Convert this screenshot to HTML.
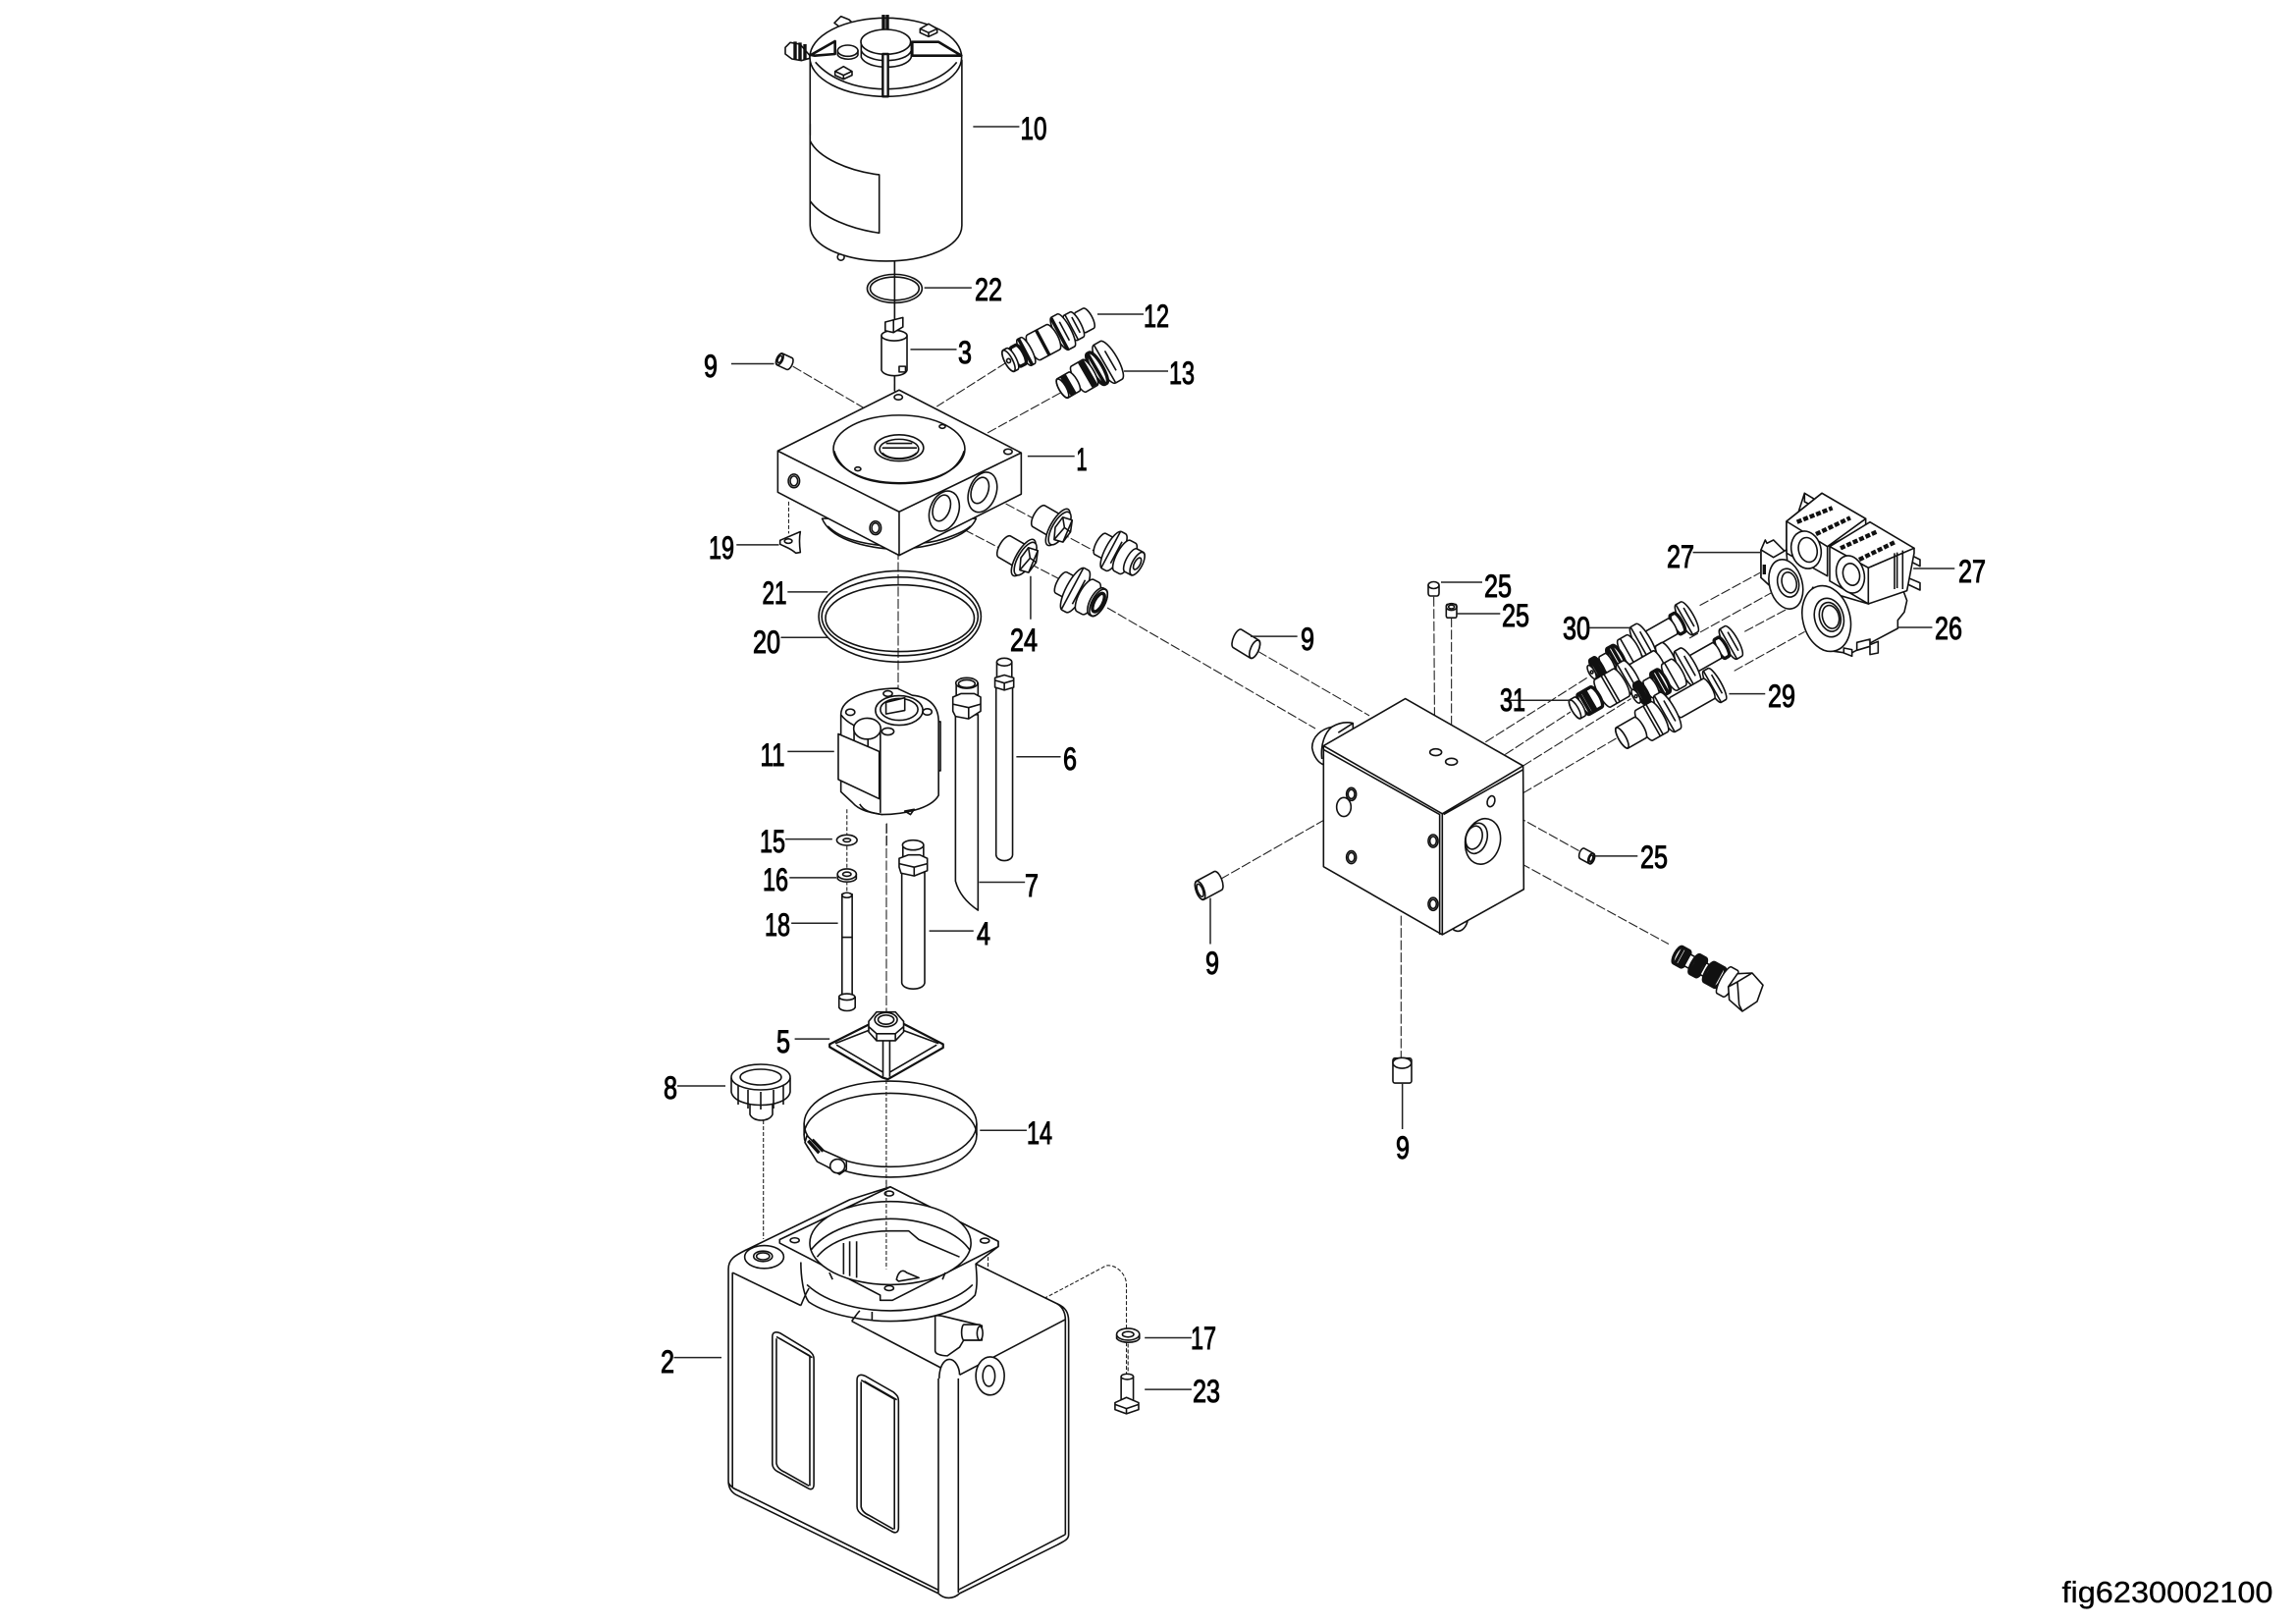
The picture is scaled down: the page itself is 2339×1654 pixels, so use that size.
<!DOCTYPE html>
<html><head><meta charset="utf-8"><style>
html,body{margin:0;padding:0;background:#fff}
svg{display:block}
svg *{vector-effect:non-scaling-stroke}
.p{fill:#fff;stroke:#111;stroke-width:1.6;stroke-linejoin:round}
.p .n,.n{fill:none}
.d{stroke-width:3.4}
.f{fill:#111}
.l{stroke:#222;stroke-width:1.5;fill:none}
.a{stroke:#222;stroke-width:1.1;stroke-dasharray:10 2.5;fill:none}
.s{stroke:#222;stroke-width:1.1;stroke-dasharray:4 2;fill:none}
text{font-family:"Liberation Sans",sans-serif;font-size:32px;fill:#000;stroke:#000;stroke-width:1;text-anchor:middle}
</style></head><body>
<svg width="2339" height="1654" viewBox="0 0 2339 1654" xmlns="http://www.w3.org/2000/svg">
<defs>
<g id="v30">
<rect x="320" y="-48" width="45" height="96" rx="14" ry="48"/><path class="n" d="M334,-47V47M350,-30V30"/>
<rect class="d" x="295" y="-30" width="30" height="60" rx="9" ry="30"/>
<rect x="205" y="-25" width="95" height="50" rx="8" ry="25"/>
<rect x="165" y="-56" width="50" height="112" rx="16" ry="56"/><path class="n" d="M180,-54V54M198,-32V32"/>
<rect x="115" y="-42" width="55" height="84" rx="13" ry="42"/><path class="n" d="M135,-41V41"/>
<rect class="d" x="75" y="-36" width="40" height="72" rx="11" ry="36"/><path class="n d" d="M87,-35V35M100,-35V35"/>
<rect x="45" y="-27" width="35" height="54" rx="8" ry="27"/>
<rect class="d" x="15" y="-32" width="30" height="64" rx="9" ry="32"/><path class="n d" d="M26,-31V31M35,-31V31"/>
<ellipse cx="9" cy="0" rx="9" ry="21"/><circle cx="9" cy="0" r="4" class="n"/>
</g>
<g id="v31">
<rect x="310" y="-40" width="42" height="80" rx="12" ry="40"/>
<rect x="210" y="-32" width="105" height="64" rx="10" ry="32"/>
<rect x="175" y="-50" width="50" height="100" rx="15" ry="50"/><path class="n" d="M190,-49V49M205,-30V30"/>
<rect x="95" y="-44" width="90" height="88" rx="13" ry="44"/><path class="n" d="M130,-43V43M140,-43V43"/>
<rect class="d" x="30" y="-32" width="65" height="64" rx="11" ry="32"/><path class="n d" d="M45,-31V31M56,-31V31M65,-31V31"/>
<rect x="0" y="-30" width="36" height="60" rx="10" ry="30"/><ellipse cx="10" cy="0" rx="10" ry="29"/>
</g>
<g id="v29">
<rect x="315" y="-50" width="42" height="100" rx="13" ry="50"/><path class="n" d="M328,-48V48M344,-30V30"/>
<rect x="190" y="-32" width="135" height="64" rx="10" ry="32"/>
<rect x="145" y="-58" width="50" height="116" rx="16" ry="58"/><path class="n" d="M160,-56V56M178,-33V33"/>
<rect x="75" y="-48" width="80" height="96" rx="14" ry="48"/><path class="n" d="M115,-47V47M125,-47V47"/>
<rect x="0" y="-33" width="85" height="66" rx="11" ry="33"/><ellipse cx="11" cy="0" rx="11" ry="32"/>
</g>
<g id="plug2">
<rect x="-75" y="-33" width="70" height="66" rx="14" ry="33"/>
<rect x="-22" y="-56" width="40" height="112" rx="20" ry="56"/>
<ellipse cx="4" cy="0" rx="20" ry="50"/>
<path d="M-4,-30L22,-36L34,-6L30,28L6,34L-8,4Z"/><path class="n" d="M-4,-30L14,-8L34,-6M14,-8L6,34M22,-36L30,28"/>
</g>
</defs>

<!-- long dashed lines in page coordinates -->
<path class="a" d="M911.4,266V535M915,535V703M903,839V1100V1293"/>
<path class="a" d="M1128,619L1340,742"/>
<path class="s" d="M777.7,1141V1262"/>

<!-- Z1: motor, pump head -->
<g transform="translate(650,0) scale(.3827)">
<path class="a" d="M412,975L600,1085M980,965L795,1082M1125,1045L925,1155M950,1325L1240,1480M840,1395L1120,1540"/>
<path class="s" d="M401,1335V1420"/>
<g class="p">
<circle cx="540" cy="684" r="9"/>
<path d="M458,160V600C458,660 560,695 660,695C760,695 862,660 862,600V160Z"/>
<path class="n" d="M458,375C480,420 560,455 642,465V620C570,610 490,580 458,535M458,330V360"/>
<ellipse cx="683" cy="768" rx="73" ry="38"/><ellipse cx="683" cy="768" rx="65" ry="31"/>
<path class="n" d="M683,696V1040"/>
<path d="M648,893V985C655,1005 710,1005 716,985V893Z"/><ellipse cx="682" cy="893" rx="34" ry="14"/>
<path d="M658,857L705,845V870L680,885L658,880Z"/><path class="n" d="M680,850V885M695,975H712V990H695Z"/>
<g transform="translate(390,962) rotate(25)"><rect x="-22" y="-17" width="44" height="34" rx="8" ry="17"/><ellipse cx="-14" cy="0" rx="8" ry="16"/><ellipse cx="-14" cy="0" rx="5" ry="10"/></g>
<!-- head block underside -->
<path d="M490,1380C510,1430 590,1458 690,1462C780,1458 880,1430 900,1380Z"/>
<path class="n" d="M505,1400C540,1435 600,1450 690,1455M760,1445C810,1440 870,1415 885,1400"/>
<path d="M372,1200L695,1038L1020,1205V1315L695,1478L372,1310Z"/>
<path class="n" d="M372,1200L695,1362L1020,1205M695,1362V1478"/>
<ellipse cx="695" cy="1195" rx="175" ry="90"/><path class="n" d="M522,1200C540,1260 610,1287 695,1287C780,1287 850,1260 868,1200"/>
<ellipse cx="695" cy="1192" rx="65" ry="35"/><ellipse cx="695" cy="1195" rx="52" ry="26"/><path class="n" d="M650,1205C670,1225 720,1225 742,1205M660,1180H730M650,1192H742"/>
<ellipse cx="693" cy="1057" rx="11" ry="7"/><ellipse cx="985" cy="1202" rx="11" ry="7"/><ellipse cx="810" cy="1135" rx="8" ry="5"/><ellipse cx="585" cy="1248" rx="8" ry="5"/>
<ellipse cx="415" cy="1280" rx="15" ry="18"/><ellipse cx="415" cy="1280" rx="10" ry="13"/><ellipse cx="632" cy="1405" rx="15" ry="18"/><ellipse cx="632" cy="1405" rx="10" ry="13"/>
<ellipse cx="917" cy="1310" rx="36" ry="55" transform="rotate(20 917 1310)"/><ellipse cx="910" cy="1305" rx="22" ry="36" transform="rotate(20 910 1305)"/>
<ellipse cx="815" cy="1360" rx="38" ry="55" transform="rotate(20 815 1360)"/><ellipse cx="808" cy="1352" rx="22" ry="36" transform="rotate(20 808 1352)"/>
<path d="M378,1438L432,1415C428,1435 430,1455 432,1470L420,1472C405,1458 390,1455 378,1448Z"/><ellipse cx="400" cy="1440" rx="10" ry="6"/>
</g>
<path class="l" d="M892,337H1015M762,766H888M725,930H848M248,968H362M1037,1214H1162M262,1450H375"/>
</g>

<!-- motor top (3x crop coordinates) -->
<g transform="translate(800,0) scale(.3333)" class="p">
<path d="M75,170L45,135L15,130L0,145V165L20,180L50,185L75,178Z"/><path class="n d" d="M30,127V182M45,130V185M60,135V183"/>
<path d="M150,70L170,50L195,60L205,70L170,85Z"/>
<ellipse cx="307" cy="175" rx="232" ry="120"/>
<path class="n" d="M92,190C140,245 220,272 305,272C395,272 480,245 524,190"/>
<path d="M78,168L152,126V165L90,170Z" style="stroke-width:2.6"/><path d="M388,128H468L538,170H388Z" style="stroke-width:2.6"/>
<path class="n d" d="M300,45V92M312,45V92"/>
<path d="M232,130V175C250,215 370,215 385,175V130Z"/><path class="n" d="M232,155C250,195 370,195 385,155"/><ellipse cx="307" cy="128" rx="76" ry="38"/>
<path d="M298,165H314V295H298Z" style="stroke-width:2.4"/>
<path d="M160,155V168C170,185 215,185 222,168V155Z"/><ellipse cx="191" cy="155" rx="31" ry="17"/>
<path d="M152,218V230L178,242L204,230V218L178,203Z"/><path class="n" d="M152,218L178,230L204,218M178,230V242"/>
<path d="M412,88V100L438,112L464,100V88L438,73Z"/><path class="n" d="M412,88L438,100L464,88M438,100V112"/>
</g>

<!-- 12 / 13 (3x crop) -->
<g transform="translate(1000,300) scale(.3333)" class="p">
<g transform="translate(72,208) rotate(-28) scale(1,1.08)">
<rect x="250" y="-32" width="50" height="64" rx="12" ry="32"/>
<rect x="215" y="-40" width="45" height="80" rx="12" ry="40"/><path class="n" d="M230,-39V39M245,-25V25"/>
<rect x="175" y="-52" width="50" height="104" rx="15" ry="52"/><path class="n d" d="M188,-50V50"/><path class="n" d="M205,-30V30"/>
<rect x="85" y="-40" width="95" height="80" rx="15" ry="40"/><path class="n d" d="M130,-39V39"/>
<rect x="55" y="-42" width="35" height="84" rx="12" ry="42"/><path class="n d" d="M70,-41V41"/>
<rect class="d" x="28" y="-30" width="35" height="60" rx="10" ry="30"/>
<rect x="0" y="-34" width="36" height="68" rx="12" ry="34"/><ellipse cx="12" cy="0" rx="12" ry="33"/><circle cx="12" cy="0" r="6"/>
</g>
<g transform="translate(238,292) rotate(-30) scale(1,1.08)">
<rect x="140" y="-62" width="62" height="124" rx="20" ry="62"/><path class="n" d="M160,-60V60M180,-32V32"/>
<rect class="d" x="115" y="-50" width="35" height="100" rx="14" ry="50"/><path class="n d" d="M130,-48V48"/>
<rect x="55" y="-42" width="65" height="84" rx="13" ry="42"/><path class="n d" d="M95,-40V40M105,-40V40"/>
<rect x="0" y="-31" width="62" height="62" rx="11" ry="31"/><ellipse cx="11" cy="0" rx="11" ry="30"/><path class="n d" d="M26,-30V30M36,-30V30"/>
</g>
</g>
<path class="l" d="M1118,320H1165M1145,378H1190"/>

<!-- 24 plugs, fittings (3x crop) -->
<g transform="translate(1010,500) scale(.3333)" class="p">
<g transform="translate(370,182) rotate(28) scale(1.1)">
<rect x="-50" y="-33" width="45" height="66" rx="12" ry="33"/>
<rect x="-20" y="-58" width="48" height="116" rx="18" ry="58"/><path class="n" d="M-5,-56V56M12,-34V34"/>
<rect x="15" y="-48" width="48" height="96" rx="16" ry="48"/>
<rect x="45" y="-36" width="46" height="72" rx="13" ry="36"/><ellipse cx="78" cy="0" rx="14" ry="35"/><ellipse cx="78" cy="0" rx="8" ry="18"/>
</g>
<use href="#plug2" transform="translate(205,112) rotate(30) scale(1.13)"/>
<use href="#plug2" transform="translate(100,205) rotate(30) scale(1.13)"/>
<g transform="translate(265,308) rotate(28) scale(1.1)">
<rect x="-65" y="-33" width="45" height="66" rx="12" ry="33"/>
<rect x="-35" y="-66" width="52" height="132" rx="20" ry="66"/><path class="n" d="M-18,-64V64M2,-38V38"/>
<rect x="5" y="-50" width="52" height="100" rx="18" ry="50"/>
<rect x="40" y="-42" width="42" height="84" rx="18" ry="42"/><ellipse cx="64" cy="0" rx="18" ry="41"/><ellipse cx="64" cy="0" rx="12" ry="28" class="d"/>
</g>
</g>

<!-- Z2 -->
<g transform="translate(650,560) scale(.3827,.3571)">
<g class="p">
<ellipse class="n" cx="697" cy="190" rx="216" ry="130"/><ellipse class="n" cx="697" cy="190" rx="208" ry="112"/><ellipse class="n" cx="697" cy="195" rx="198" ry="95"/>
<!-- pump -->
<path d="M540,470C540,420 620,395 690,395L730,415C780,420 800,450 800,490V700C780,740 700,755 650,755C620,750 590,745 570,720L540,690Z"/>
<path class="n" d="M540,470C560,500 600,515 645,520V750M575,500V570M612,490V590M800,490H805V630H800M590,725C600,745 620,750 650,755M710,745L735,740L725,755Z"/>
<ellipse cx="610" cy="510" rx="36" ry="30"/>
<path d="M533,525L642,575V710L533,655Z"/>
<ellipse cx="565" cy="463" rx="12" ry="9"/><ellipse cx="770" cy="462" rx="12" ry="9"/><ellipse cx="665" cy="410" rx="12" ry="8"/><ellipse cx="665" cy="518" rx="16" ry="10"/>
<ellipse cx="695" cy="458" rx="63" ry="42"/><ellipse cx="695" cy="455" rx="50" ry="31"/><path d="M660,435L710,422V458L660,468Z"/>
<ellipse cx="556" cy="828" rx="27" ry="15"/><ellipse cx="556" cy="828" rx="10" ry="5"/>
<path d="M531,925V938C540,950 572,950 581,938V925Z"/><ellipse cx="556" cy="925" rx="25" ry="15"/><ellipse cx="556" cy="925" rx="11" ry="6"/>
<rect x="543" y="982" width="27" height="290"/><ellipse cx="556" cy="985" rx="13" ry="7"/><path class="n" d="M543,1105H570"/>
<path d="M535,1275V1305C540,1318 572,1318 578,1305V1275Z"/><ellipse cx="556" cy="1275" rx="21" ry="9"/>
<!-- tube 7 -->
<path d="M845,470V945C855,985 880,1010 905,1028V470Z"/>
<path d="M847,380V420H905V380Z"/><ellipse cx="875" cy="380" rx="29" ry="15"/><ellipse cx="875" cy="382" rx="22" ry="11"/>
<path d="M838,420L860,410H895L912,420V460L880,482L845,475L838,460Z"/><path class="n" d="M838,440L880,450L912,440M880,450V482"/>
<!-- tube 6 -->
<path d="M953,390V870C955,892 995,892 997,870V390Z"/>
<path d="M955,320V365H995V320Z"/><ellipse cx="975" cy="320" rx="20" ry="11"/>
<path d="M950,365L975,357L1000,365V392L975,400L950,392Z"/><path class="n" d="M975,378V400M950,372L975,380L1000,372"/>
<!-- tube 4 -->
<path d="M702,920V1235C705,1258 760,1258 763,1235V920Z"/>
<path d="M705,842V885H760V842Z"/><ellipse cx="732" cy="842" rx="28" ry="14"/>
<path d="M695,880L720,870H750L770,880V915L735,930L700,922L695,905Z"/><path class="n" d="M695,895L735,905L770,895M735,905V930"/>
<!-- 5 -->
<path d="M510,1410L640,1340H685L812,1410V1420L665,1510L650,1505L510,1418Z" style="stroke-width:2.2"/>
<path class="n" d="M528,1412L652,1490M795,1412L670,1490M652,1395V1503M670,1395V1503M525,1408L615,1370M800,1408L705,1370"/>
<path d="M614,1345L635,1318H685L707,1345V1375L685,1400H635L614,1375Z"/><ellipse cx="660" cy="1340" rx="30" ry="20"/><ellipse cx="660" cy="1340" rx="21" ry="13"/><path class="n" d="M614,1360L635,1380H685L707,1360M635,1380V1400M685,1380V1400"/>
</g>
<path class="s" d="M556,740V815M556,845V912M556,945V980"/>
<path class="a" d="M662,780V845"/>
<path class="l" d="M398,120H505M380,250H505M398,575H522M392,825H517M403,935H528M408,1065H532M1045,75V198M1007,590H1125M908,948H1030M775,1087H893M417,1395H510"/>
</g>

<!-- 8 cap -->
<g class="p">
<path d="M764,1118V1135C767,1143 784,1143 787,1135V1118Z"/>
<path d="M745,1098V1112C748,1130 802,1130 805,1112V1098Z"/>
<path class="n" d="M752,1106V1125M762,1110V1129M775,1112V1130M788,1110V1129M798,1106V1125"/>
<ellipse cx="775" cy="1097" rx="30" ry="13"/><ellipse cx="775" cy="1097" rx="21" ry="8"/>
</g>
<path class="l" d="M690,1106H739"/>

<!-- Z3 tank -->
<g transform="translate(650,1100) scale(.4146,.3533)">
<path class="s" d="M860,510V640C860,665 885,680 905,680Q920,680 1150,535C1175,530 1200,560 1200,590V850"/>
<g class="p">
<path d="M408,126C408,58 503,3 620,3C737,3 832,58 832,126V159C832,226 737,280 620,280C503,280 408,226 408,159Z"/>
<path class="n" d="M408,159C408,92 503,38 620,38C737,38 832,92 832,159M408,126C408,194 503,250 620,250C737,250 832,194 832,126"/>
<path d="M415,160L450,200L512,232V258L495,272L465,250L440,235L410,180Z"/><path class="n d" d="M418,175L445,210M428,172L455,205"/>
<ellipse cx="490" cy="248" rx="18" ry="20"/>
<!-- tank body -->
<path d="M222,545C222,515 240,505 265,490L520,345L620,308L885,465V480L830,530L1030,645C1050,655 1058,670 1058,695V1310C1058,1325 1045,1330 1030,1340L790,1480C775,1497 752,1497 738,1480L240,1195C225,1185 222,1170 222,1155Z"/>
<path class="n" d="M232,555V1172M232,555L400,650M525,695L745,830M222,1160C228,1175 240,1180 250,1185M232,1175L738,1470M787,1470L1050,1310M738,860V1478M787,860V1478M790,850L1050,690M1050,690V1310M740,860C740,830 750,805 765,805C780,805 790,830 790,850M1030,645C1045,655 1050,675 1050,690"/>
<path class="n" d="M400,525C400,560 405,620 420,640C470,680 560,695 620,695C700,695 790,670 828,620C835,590 832,560 830,530M415,590C470,650 560,665 620,665C690,665 780,640 822,590M400,650C410,620 415,610 420,600M525,695C535,680 540,670 545,665M575,693V668"/>
<path d="M348,460L620,308L885,465V480L625,635H595V620L348,470Z"/>
<ellipse cx="620" cy="470" rx="198" ry="120"/>
<path class="n" d="M425,490C470,420 570,400 620,400C690,400 780,430 815,490M440,510C480,450 570,435 620,435H665L690,460L790,510M505,470V560M520,465V565M537,465V570"/>
<path class="n" d="M470,555L478,575M755,555L748,575"/>
<ellipse cx="385" cy="462" rx="11" ry="7"/><ellipse cx="617" cy="327" rx="11" ry="7"/><ellipse cx="852" cy="463" rx="11" ry="7"/><ellipse cx="617" cy="600" rx="11" ry="7"/>
<path d="M635,575C640,550 650,545 660,555L690,570L640,580Z"/>
<ellipse cx="310" cy="510" rx="48" ry="33"/><ellipse cx="307" cy="508" rx="23" ry="15"/><ellipse cx="307" cy="508" rx="16" ry="10"/>
<path d="M730,680C740,675 760,685 800,695L845,708V750L800,750L790,770L760,795C745,795 730,790 730,780Z"/>
<rect x="795" y="705" width="50" height="45" rx="6" ry="22"/><ellipse cx="840" cy="730" rx="7" ry="20"/>
<ellipse cx="865" cy="853" rx="35" ry="55"/><ellipse cx="862" cy="853" rx="15" ry="30"/>
<!-- windows -->
<path d="M330,740C330,725 340,725 350,730L420,780C430,790 432,795 432,805V1165C432,1180 425,1183 415,1175L345,1130C335,1125 330,1115 330,1105Z"/>
<path class="n" d="M340,745V1105C342,1118 350,1125 360,1130L420,1170M340,740L422,795V1170M348,745L428,800"/>
<path d="M538,865C538,848 548,848 558,853L628,900C638,910 640,915 640,925V1290C640,1305 632,1308 622,1300L553,1255C543,1248 538,1240 538,1230Z"/>
<path class="n" d="M548,870V1230C550,1243 558,1250 568,1255L628,1295M548,865L630,920V1295M556,868L636,922"/>
<!-- 17 / 23 -->
<path d="M1176,735V745C1185,760 1225,760 1232,745V735Z"/><ellipse cx="1204" cy="733" rx="28" ry="17"/><ellipse cx="1204" cy="733" rx="14" ry="8"/>
<path d="M1187,855V925H1217V855Z"/><ellipse cx="1202" cy="855" rx="15" ry="8"/>
<path d="M1172,930L1200,915L1230,930V950L1200,962L1172,950Z"/><path class="n" d="M1172,935L1200,947L1230,935M1200,947V962"/>
</g>
<path class="s" d="M610,0V545M1204,760V850"/>
<path class="l" d="M840,145H955M88,800H205M1245,743H1360M1245,892H1360"/>
</g>

<!-- Z4 valve block -->
<g transform="translate(1200,600) scale(.3333,.3846)">
<path class="a" d="M782,20L785,420M836,75V447M245,165L585,335M130,768L490,590M682,865V1240M970,570L1230,695M950,680L1500,940M940,405L1250,235M1000,438L1200,325M1055,468L1385,290M1055,540L1340,395"/>
<g class="p">
<path d="M470,365C440,370 410,390 410,420C415,445 430,460 445,465L535,390V355C510,350 490,355 470,365Z"/><path class="n" d="M470,365C450,380 435,410 440,450M490,380L535,355"/>
<path d="M830,885C840,915 875,912 885,880Z"/>
<path d="M695,290L1055,468L1057,795L808,915L445,735V415Z"/>
<path class="n" d="M445,415L808,595L1055,468M445,425L800,597V915M808,595V915M812,597L1055,478"/>
<ellipse cx="788" cy="432" rx="18" ry="9"/><ellipse cx="836" cy="457" rx="18" ry="9"/>
<ellipse cx="530" cy="543" rx="15" ry="17"/><ellipse cx="530" cy="543" rx="10" ry="12"/><ellipse cx="507" cy="577" rx="22" ry="25"/>
<ellipse cx="530" cy="710" rx="15" ry="17"/><ellipse cx="530" cy="710" rx="10" ry="12"/>
<ellipse cx="780" cy="667" rx="15" ry="17"/><ellipse cx="780" cy="667" rx="10" ry="12"/><ellipse cx="780" cy="834" rx="15" ry="17"/><ellipse cx="780" cy="834" rx="10" ry="12"/>
<ellipse cx="957" cy="562" rx="11" ry="15" transform="rotate(25 957 562)"/>
<ellipse cx="932" cy="668" rx="52" ry="62" transform="rotate(25 932 668)"/><ellipse cx="912" cy="660" rx="32" ry="42" transform="rotate(25 912 660)"/><ellipse cx="905" cy="658" rx="24" ry="32" transform="rotate(25 905 658)"/>
<g transform="translate(208,145) rotate(28)"><rect x="-42" y="-27" width="84" height="54" rx="12" ry="27"/><ellipse cx="30" cy="0" rx="12" ry="26"/></g>
<g transform="translate(95,785) rotate(-25)"><rect x="-42" y="-27" width="84" height="54" rx="12" ry="27"/><ellipse cx="-30" cy="0" rx="12" ry="26"/><ellipse cx="-30" cy="0" rx="8" ry="18"/></g>
<rect x="657" y="1242" width="57" height="66" rx="6" ry="6"/><ellipse cx="685" cy="1255" rx="28" ry="14"/>
<rect x="820" y="40" width="32" height="36" rx="4" ry="6"/><ellipse cx="836" cy="47" rx="16" ry="9"/><ellipse cx="836" cy="47" rx="9" ry="5"/>
<g transform="translate(1250,707) rotate(25)"><rect x="-24" y="-15" width="48" height="30" rx="8" ry="15"/><ellipse cx="14" cy="0" rx="8" ry="14"/><ellipse cx="14" cy="0" rx="5" ry="9"/></g>
</g>
<path class="l" d="M222,125H365M99,818V940M686,1310V1430M850,65H985M1275,707H1405"/>
</g>
<g class="p"><rect x="1455" y="594" width="11" height="13" rx="2" ry="3"/><ellipse cx="1460.5" cy="596" rx="5.5" ry="3.5"/></g>
<path class="l" d="M1468,593H1510"/>

<!-- drain bolt (3x crop) -->
<g transform="translate(1690,940) scale(.3333)" class="p">
<g transform="translate(62,100) rotate(28.6)">
<rect class="d" x="-14" y="-28" width="44" height="56" rx="10" ry="28"/><path class="n d" d="M0,-28V28M12,-28V28M22,-28V28"/>
<rect x="28" y="-20" width="20" height="40"/>
<rect class="d" x="45" y="-32" width="40" height="64" rx="10" ry="32"/><path class="n d" d="M55,-31V31M65,-31V31M75,-31V31"/>
<rect x="83" y="-20" width="16" height="40"/>
<rect class="d" x="95" y="-33" width="55" height="66" rx="10" ry="33"/><path class="n d" d="M105,-32V32M115,-32V32M125,-32V32M135,-32V32"/>
<rect x="145" y="-46" width="45" height="92" rx="12" ry="46"/>
</g>
<path d="M240,155L285,153L318,190L300,240L255,270L215,235L212,195Z"/><path class="n" d="M212,195L240,180L285,153M240,180L245,250L255,270"/>
</g>

<!-- solenoids (3x crop) -->
<g transform="translate(1790,495) scale(.3333)" class="p">
<path d="M145,22L168,40V60L198,22L90,108V205L50,165L30,175L25,165L12,195V280L50,315Z"/>
<path d="M145,22L172,38V62L145,48Z"/>
<path d="M198,22L332,100V125L215,185V275L90,205V108Z"/>
<path d="M90,108L198,22L332,100L215,185Z"/>
<ellipse cx="150" cy="195" rx="45" ry="58" transform="rotate(-15 150 195)"/><ellipse cx="155" cy="195" rx="28" ry="38" transform="rotate(-15 155 195)"/>
<path d="M12,195L50,218L90,195V205L100,320L50,315L12,280Z"/>
<path d="M22,240V270" class="n d"/>
<ellipse cx="88" cy="300" rx="50" ry="77" transform="rotate(-15 88 300)"/><ellipse cx="95" cy="296" rx="32" ry="44" transform="rotate(-15 95 296)"/><ellipse cx="98" cy="295" rx="22" ry="32" transform="rotate(-15 98 295)"/>
<path d="M458,205L498,225V245L458,225ZM460,280L498,296V318L460,300Z"/>
<path d="M170,310L340,360L445,315L458,350L450,385L430,410V435L285,512L200,500L140,400Z"/>
<path d="M265,495L290,500V520L265,510ZM305,478L345,468V490L305,502ZM345,485L370,475V510L345,515Z"/>
<path d="M222,185L345,110L480,190L340,250Z"/>
<path d="M222,185L340,250V360L222,290Z"/>
<path d="M340,250L480,190V205L458,320L340,360Z"/>
<path class="n" d="M420,205V315M428,203V312M445,197V315"/>
<ellipse cx="285" cy="270" rx="42" ry="58" transform="rotate(-15 285 270)"/><ellipse cx="288" cy="270" rx="25" ry="34" transform="rotate(-15 288 270)"/>
<ellipse cx="212" cy="405" rx="72" ry="102" transform="rotate(-15 212 405)"/><ellipse cx="220" cy="402" rx="44" ry="60" transform="rotate(-15 220 402)"/><ellipse cx="223" cy="400" rx="32" ry="45" transform="rotate(-15 223 400)"/><ellipse cx="225" cy="400" rx="25" ry="36" transform="rotate(-15 225 400)"/>
<path class="n" style="stroke-width:4.4;stroke-dasharray:5 2" d="M122,110L230,67M180,147L285,97M255,190L365,140M312,225L420,172"/>
</g>

<!-- cartridges (3x crop) -->
<g transform="translate(1590,610) scale(.3333)">
<g class="p">
<use href="#v30" transform="translate(87,228) rotate(-29.5) scale(1,1.1)"/>
<use href="#v31" transform="translate(35,342) rotate(-30) scale(1,1.1)"/>
<use href="#v30" transform="translate(222,302) rotate(-29.5) scale(1,1.1)"/>
<use href="#v29" transform="translate(178,430) rotate(-29.6) scale(1,1.1)"/>
</g>
</g>

<!-- lead lines for the right cluster (crop Z5) -->
<g transform="translate(1500,480) scale(.3509,.3333)">
<path class="a" d="M660,410L835,310M630,510L870,370M790,490L915,420M760,610L965,490"/>
<path class="l" d="M640,248H835M1280,297H1400M1235,477H1335M340,478H460M105,700H285M745,680H850"/>
</g>

<!-- labels -->
<text x="1053" y="142" textLength="27" lengthAdjust="spacingAndGlyphs">10</text>
<text x="1007" y="306" textLength="28" lengthAdjust="spacingAndGlyphs">22</text>
<text x="1178" y="333" textLength="26" lengthAdjust="spacingAndGlyphs">12</text>
<text x="983" y="370" textLength="14" lengthAdjust="spacingAndGlyphs">3</text>
<text x="1204" y="391" textLength="26" lengthAdjust="spacingAndGlyphs">13</text>
<text x="724" y="384" textLength="14" lengthAdjust="spacingAndGlyphs">9</text>
<text x="1102" y="479" textLength="11" lengthAdjust="spacingAndGlyphs">1</text>
<text x="735" y="569" textLength="26" lengthAdjust="spacingAndGlyphs">19</text>
<text x="789" y="615" textLength="25" lengthAdjust="spacingAndGlyphs">21</text>
<text x="781" y="665" textLength="28" lengthAdjust="spacingAndGlyphs">20</text>
<text x="1043" y="663" textLength="28" lengthAdjust="spacingAndGlyphs">24</text>
<text x="1332" y="662" textLength="14" lengthAdjust="spacingAndGlyphs">9</text>
<text x="1526" y="608" textLength="28" lengthAdjust="spacingAndGlyphs">25</text>
<text x="1544" y="638" textLength="28" lengthAdjust="spacingAndGlyphs">25</text>
<text x="1712" y="578" textLength="28" lengthAdjust="spacingAndGlyphs">27</text>
<text x="2009" y="593" textLength="28" lengthAdjust="spacingAndGlyphs">27</text>
<text x="1606" y="651" textLength="28" lengthAdjust="spacingAndGlyphs">30</text>
<text x="1985" y="651" textLength="28" lengthAdjust="spacingAndGlyphs">26</text>
<text x="1541" y="724" textLength="26" lengthAdjust="spacingAndGlyphs">31</text>
<text x="1815" y="720" textLength="28" lengthAdjust="spacingAndGlyphs">29</text>
<text x="787" y="780" textLength="25" lengthAdjust="spacingAndGlyphs">11</text>
<text x="1090" y="784" textLength="14" lengthAdjust="spacingAndGlyphs">6</text>
<text x="787" y="868" textLength="26" lengthAdjust="spacingAndGlyphs">15</text>
<text x="790" y="907" textLength="26" lengthAdjust="spacingAndGlyphs">16</text>
<text x="792" y="953" textLength="26" lengthAdjust="spacingAndGlyphs">18</text>
<text x="1051" y="913" textLength="14" lengthAdjust="spacingAndGlyphs">7</text>
<text x="1002" y="962" textLength="14" lengthAdjust="spacingAndGlyphs">4</text>
<text x="1685" y="884" textLength="28" lengthAdjust="spacingAndGlyphs">25</text>
<text x="1235" y="992" textLength="14" lengthAdjust="spacingAndGlyphs">9</text>
<text x="798" y="1072" textLength="14" lengthAdjust="spacingAndGlyphs">5</text>
<text x="683" y="1119" textLength="14" lengthAdjust="spacingAndGlyphs">8</text>
<text x="1059" y="1165" textLength="26" lengthAdjust="spacingAndGlyphs">14</text>
<text x="1429" y="1180" textLength="14" lengthAdjust="spacingAndGlyphs">9</text>
<text x="1226" y="1374" textLength="26" lengthAdjust="spacingAndGlyphs">17</text>
<text x="1229" y="1428" textLength="28" lengthAdjust="spacingAndGlyphs">23</text>
<text x="680" y="1398" textLength="14" lengthAdjust="spacingAndGlyphs">2</text>
<text x="2208" y="1632" textLength="215" lengthAdjust="spacingAndGlyphs" style="font-size:31px;stroke-width:.3">fig6230002100</text>
</svg>
</body></html>
